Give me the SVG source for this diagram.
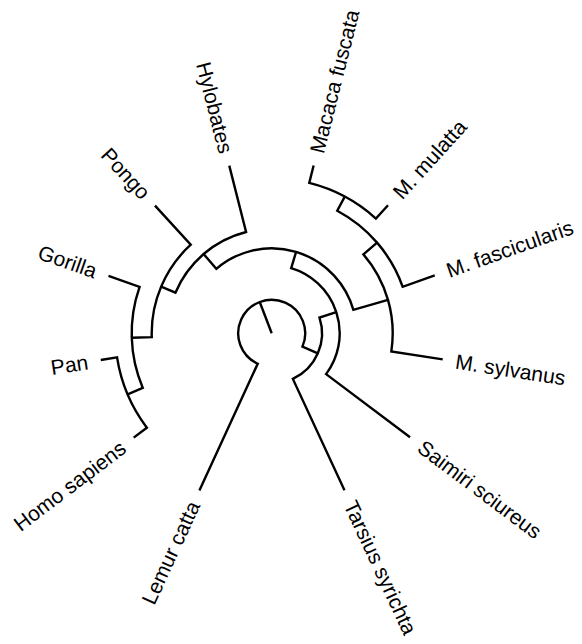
<svg xmlns="http://www.w3.org/2000/svg" width="582" height="644" viewBox="0 0 582 644">
  <style>
    .br { fill: none; stroke: #000; stroke-width: 2.4; stroke-linejoin: miter; stroke-linecap: butt; }
    .tip { font-family: "Liberation Sans", Arial, Helvetica, sans-serif; font-size: 21px; fill: #000; }
    .r { text-anchor: start; }
    .l { text-anchor: end; }
  </style>
  <rect width="582" height="644" fill="#fff"/>

  <!-- fan-layout branches: each path = child radial, node arc, child radial -->
  <g id="branches">
    <path class="br" d="M 271.7,333.3 L 259.73,302.01"/>
    <path class="br" d="M 199.40,490.47 L 257.70,363.73 A 33.5 33.5 0 1 1 302.43,346.64 L 317.84,353.33"/>
    <path class="br" d="M 336.29,312.04 L 319.48,317.57 A 50.3 50.3 0 0 1 292.86,378.93 L 344.48,490.25"/>
    <path class="br" d="M 296.08,251.87 L 291.20,268.16 A 68 68 0 0 1 326.08,374.13 L 410.05,437.17"/>
    <path class="br" d="M 203.61,254.03 L 216.31,268.82 A 85 85 0 0 1 353.40,309.86 L 388.01,299.93"/>
    <path class="br" d="M 161.14,286.63 L 175.42,292.66 A 104.5 104.5 0 0 1 246.07,232.00 L 229.26,165.59"/>
    <path class="br" d="M 131.77,337.71 L 151.76,337.08 A 120 120 0 0 1 190.75,244.72 L 154.99,205.59"/>
    <path class="br" d="M 127.61,394.37 L 142.80,387.93 A 140 140 0 0 1 139.61,286.89 L 108.47,275.95"/>
    <path class="br" d="M 133.70,437.62 L 146.86,427.67 A 156.5 156.5 0 0 1 117.06,357.40 L 100.76,359.94"/>
    <path class="br" d="M 377.08,242.64 L 363.43,254.38 A 121 121 0 0 1 391.31,351.56 L 442.71,359.41"/>
    <path class="br" d="M 344.78,196.62 L 337.24,210.73 A 139 139 0 0 1 402.70,286.80 L 434.74,275.43"/>
    <path class="br" d="M 313.62,165.46 L 309.26,182.92 A 155 155 0 0 1 375.91,218.54 L 388.01,205.21"/>
  </g>

  <!-- tip labels -->
  <g id="tip-lemur-catta"><text class="tip l" dy="7.3" transform="translate(193.97,502.28) rotate(-65.3)">Lemur catta</text></g>
  <g id="tip-homo-sapiens"><text class="tip l" dy="7.3" transform="translate(123.33,445.46) rotate(-37.08)">Homo sapiens</text></g>
  <g id="tip-pan"><text class="tip l" dy="7.3" transform="translate(87.91,361.94) rotate(-8.86)">Pan</text></g>
  <g id="tip-gorilla"><text class="tip l" dy="7.3" transform="translate(96.21,271.64) rotate(19.36)">Gorilla</text></g>
  <g id="tip-pongo"><text class="tip l" dy="7.3" transform="translate(146.22,195.99) rotate(47.58)">Pongo</text></g>
  <g id="tip-hylobates"><text class="tip l" dy="7.3" transform="translate(226.07,152.99) rotate(75.8)">Hylobates</text></g>
  <g id="tip-macaca-fuscata"><text class="tip r" dy="7.3" transform="translate(316.77,152.84) rotate(-75.98)">Macaca fuscata</text></g>
  <g id="tip-m-mulatta"><text class="tip r" dy="7.3" transform="translate(396.75,195.59) rotate(-47.76)">M. mulatta</text></g>
  <g id="tip-m-fascicularis"><text class="tip r" dy="7.3" transform="translate(446.99,271.08) rotate(-19.54)">M. fascicularis</text></g>
  <g id="tip-m-sylvanus"><text class="tip r" dy="7.3" transform="translate(455.56,361.37) rotate(8.68)">M. sylvanus</text></g>
  <g id="tip-saimiri-sciureus"><text class="tip r" dy="7.3" transform="translate(420.44,444.97) rotate(36.9)">Saimiri sciureus</text></g>
  <g id="tip-tarsius-syrichta"><text class="tip r" dy="7.3" transform="translate(349.95,502.04) rotate(65.12)">Tarsius syrichta</text></g>
</svg>
